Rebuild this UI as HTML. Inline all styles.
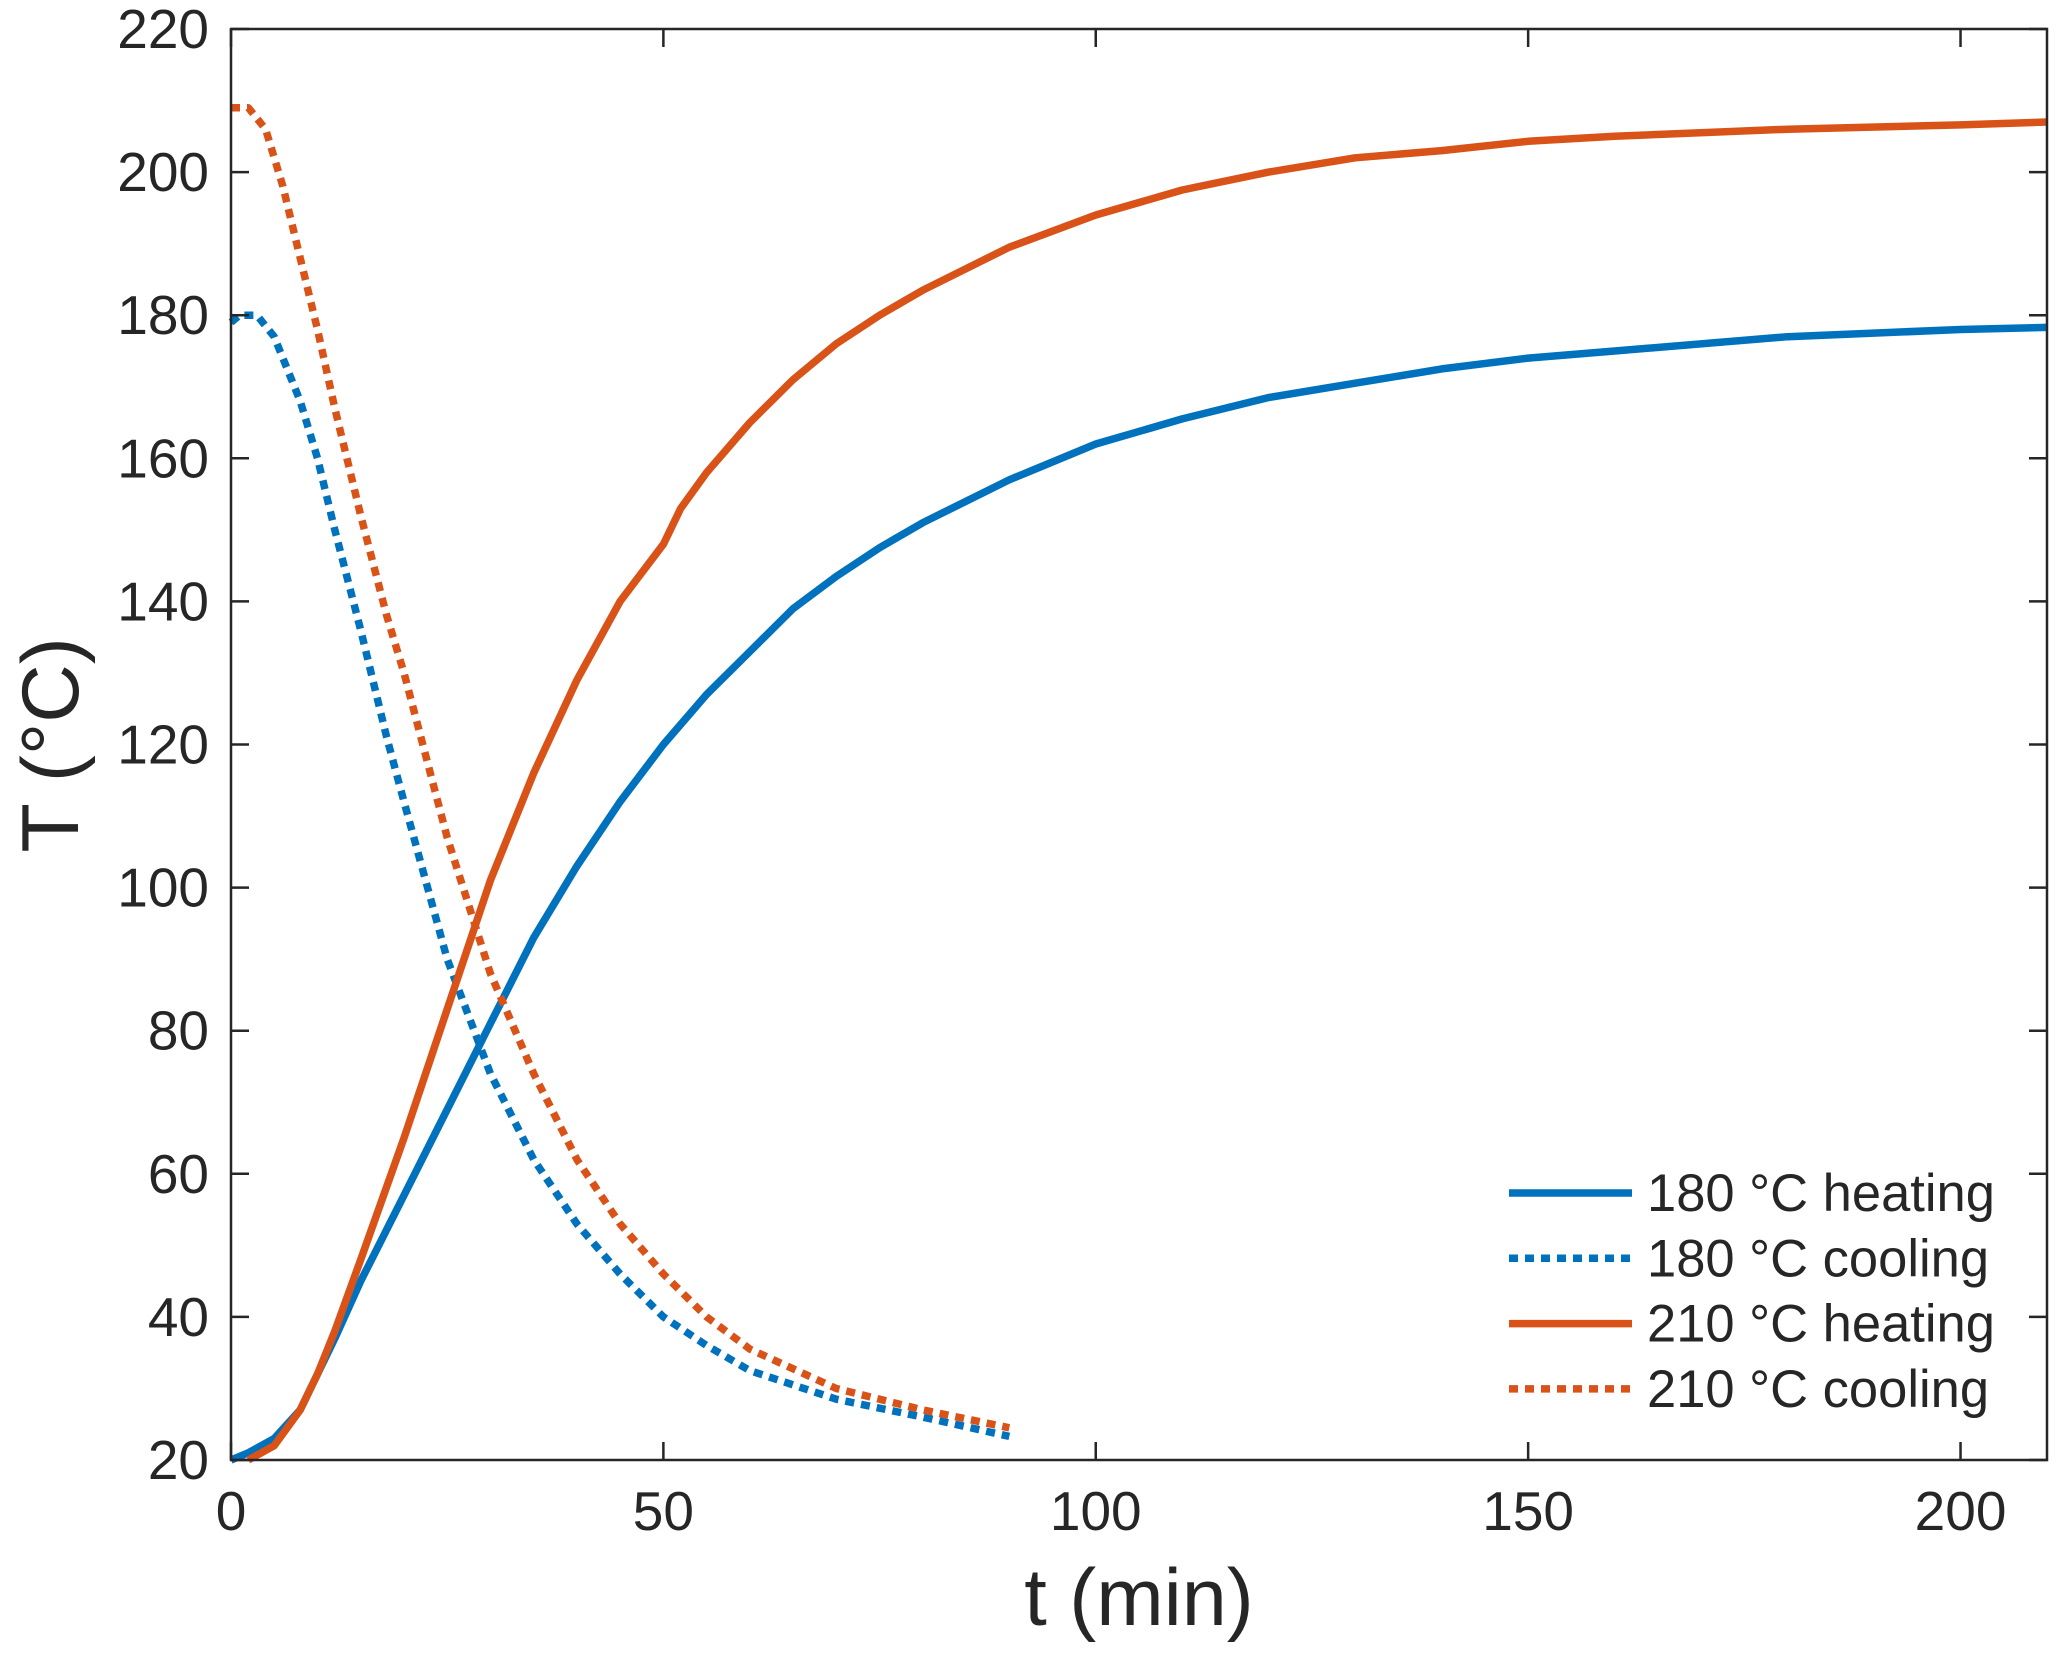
<!DOCTYPE html>
<html><head><meta charset="utf-8"><style>
html,body{margin:0;padding:0;background:#fff;}
svg text{font-family:"Liberation Sans",Arial,sans-serif;fill:#262626;}
</style></head><body>
<svg id="chart" width="2067" height="1668" viewBox="0 0 2067 1668" xmlns="http://www.w3.org/2000/svg">
<g id="marks"></g>
<g id="axes"></g>
<g id="legend"></g>
</svg>
<script>
const xTicks = [0, 50, 100, 150, 200];
const yTicks = [20, 40, 60, 80, 100, 120, 140, 160, 180, 200, 220];
const heat180T = [0,2,5,8,10,12,15,20,25,30,35,40,45,50,55,60,65,70,75,80,90,100,110,120,130,140,150,160,180,200,210];
const heat180V = [20,21,23,27,32,37,45,57,69,81,93,103,112,120,127,133,139,143.5,147.5,151,157,162,165.5,168.5,170.5,172.5,174,175,177,178,178.3];
const heat210T = [2,5,8,10,12,15,20,25,30,35,40,45,50,52,55,60,65,70,75,80,90,100,110,120,130,140,150,160,180,200,210];
const heat210V = [20,22,27,32,38,48,65,83,101,116,129,140,148,153,158,165,171,176,180,183.5,189.5,194,197.5,200,202,203,204.3,205,206,206.6,207];
const cool180T = [0,1,3,5,8,10,12,15,18,20,25,30,35,40,45,50,55,60,70,80,90];
const cool180V = [179,180,180,177,168,160,150,136,121,112,90,74,62,53,46,40,36,32.5,28.5,26,23.3];
const cool210T = [0,2,4,6,8,10,12,15,18,20,25,30,35,40,45,50,55,60,70,80,90];
const cool210V = [209,209,206,198,188,178,167,152,138,130,107,88,74,62,53,46,40,35.5,30,27,24.5];

const X0=231, X1=2047, Y0=1460, Y1=29;
const xs = t => X0 + (t-0)/(210-0)*(X1-X0);
const ys = v => Y0 - (v-20)/(220-20)*(Y0-Y1);
const NS="http://www.w3.org/2000/svg";
function mk(tag, attrs, parent){const e=document.createElementNS(NS,tag);for(const k in attrs)e.setAttribute(k,attrs[k]);parent.appendChild(e);return e;}

const marks=document.getElementById('marks');
const axes=document.getElementById('axes');
const legend=document.getElementById('legend');
const BLUE="#0072BD", RED="#D95319";
const series=[
 {t:heat180T,v:heat180V,c:BLUE,d:null,n:'180-heating-line',l:'180 °C heating'},
 {t:cool180T,v:cool180V,c:BLUE,d:'9 7',n:'180-cooling-line',l:'180 °C cooling'},
 {t:heat210T,v:heat210V,c:RED,d:null,n:'210-heating-line',l:'210 °C heating'},
 {t:cool210T,v:cool210V,c:RED,d:'9 7',n:'210-cooling-line',l:'210 °C cooling'}
];
series.forEach((s,i)=>{
  const pts=s.t.map((t,j)=>xs(t).toFixed(1)+','+ys(s.v[j]).toFixed(1)).join(' ');
  const p=mk('polyline',{points:pts,fill:'none',stroke:s.c,'stroke-width':7.5,'stroke-linejoin':'round'},marks);
  if(s.d)p.setAttribute('stroke-dasharray',s.d);
  
  
  const ly=1193+i*65.3;
  const g=mk('g',{},legend);
  
  
  const ll=mk('line',{x1:1509,x2:1632,y1:ly,y2:ly,stroke:s.c,'stroke-width':7.5},g);
  if(s.d)ll.setAttribute('stroke-dasharray',s.d);
  const lt=mk('text',{x:1647,y:ly+18,'font-size':52.5},g);
  lt.textContent=s.l;
});

const box=mk('rect',{x:X0,y:Y1,width:X1-X0,height:Y0-Y1,fill:'none',stroke:'#262626','stroke-width':2.5},axes);


xTicks.forEach(t=>{
  const x=xs(t);
  mk('line',{x1:x,x2:x,y1:Y0,y2:Y0-18,stroke:'#262626','stroke-width':2.5},axes);
  mk('line',{x1:x,x2:x,y1:Y1,y2:Y1+18,stroke:'#262626','stroke-width':2.5},axes);
  const tx=mk('text',{x:x,y:Y0+70,'font-size':55,'text-anchor':'middle'},axes);
  tx.textContent=t;
  
  
});
yTicks.forEach(v=>{
  const y=ys(v);
  mk('line',{x1:X0,x2:X0+18,y1:y,y2:y,stroke:'#262626','stroke-width':2.5},axes);
  mk('line',{x1:X1,x2:X1-18,y1:y,y2:y,stroke:'#262626','stroke-width':2.5},axes);
  const ty=mk('text',{x:X0-22,y:y+19,'font-size':55,'text-anchor':'end'},axes);
  ty.textContent=v;
  
  
});
const xt=mk('text',{x:(X0+X1)/2,y:1625,'font-size':81,'text-anchor':'middle'},axes);
xt.textContent='t (min)';


const yt=mk('text',{x:0,y:0,'font-size':81,'text-anchor':'middle',transform:'translate(78,745) rotate(-90)'},axes);
yt.textContent='T (°C)';


</script>
</body></html>
